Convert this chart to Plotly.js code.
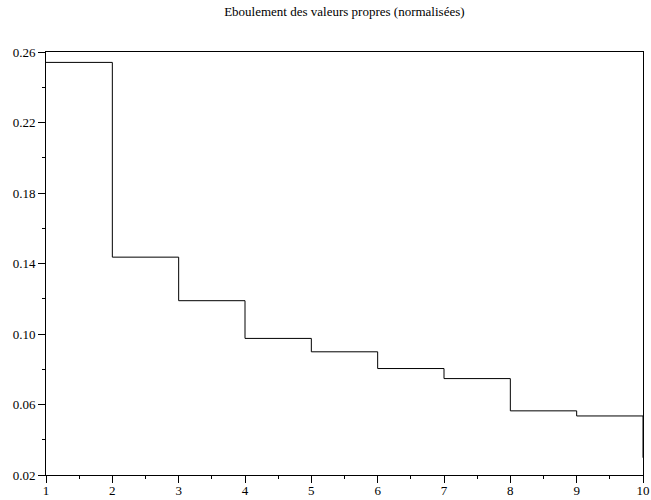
<!DOCTYPE html>
<html>
<head>
<meta charset="utf-8">
<script src="https://cdn.plot.ly/plotly-3.0.1.min.js"></script>
<style>html,body{margin:0;padding:0;background:#fff;}#chart{width:651px;height:500px;}</style>
</head>
<body>
<div id="chart"></div>
<script>
const indices = [1, 2, 3, 4, 5, 6, 7, 8, 9, 10];
const eigenvalues = [0.2541, 0.1436, 0.1189, 0.0975, 0.0899, 0.0804, 0.0747, 0.0564, 0.0535, 0.0298];
const titleText = "Eboulement des valeurs propres (normalisées)";

const fontFamily = "'Liberation Serif', 'Times New Roman', serif";

const trace = {
  x: indices,
  y: eigenvalues,
  type: "scatter",
  mode: "lines",
  line: {shape: "hv", color: "#000", width: 1},
  hoverinfo: "skip"
};

const layout = {
  width: 651,
  height: 500,
  margin: {l: 46, r: 8, t: 52, b: 25},
  paper_bgcolor: "#fff",
  plot_bgcolor: "#fff",
  showlegend: false,
  font: {family: fontFamily, size: 13, color: "#000"},
  title: {text: titleText, x: 0.529, xanchor: "center", y: 0.986, yanchor: "top", font: {family: fontFamily, size: 13, color: "#000"}},
  xaxis: {
    range: [1, 10],
    tick0: 1, dtick: 1,
    ticks: "outside", ticklen: 7, tickwidth: 1, tickcolor: "#000",
    ticklabelstandoff: -4,
    minor: {dtick: 0.5, ticks: "outside", ticklen: 3, tickcolor: "#000", showgrid: false},
    showgrid: false, zeroline: false,
    showline: true, linecolor: "#000", linewidth: 1, mirror: true,
    tickfont: {family: fontFamily, size: 13, color: "#000"}
  },
  yaxis: {
    range: [0.02, 0.26],
    tick0: 0.02, dtick: 0.04, tickformat: ".2f",
    ticks: "outside", ticklen: 7, tickwidth: 1, tickcolor: "#000",
    minor: {dtick: 0.02, tick0: 0.02, ticks: "outside", ticklen: 3, tickcolor: "#000", showgrid: false},
    showgrid: false, zeroline: false,
    showline: true, linecolor: "#000", linewidth: 1, mirror: true,
    tickfont: {family: fontFamily, size: 13, color: "#000"}
  }
};

Plotly.newPlot("chart", [trace], layout, {staticPlot: true, displayModeBar: false});
</script>
</body>
</html>
